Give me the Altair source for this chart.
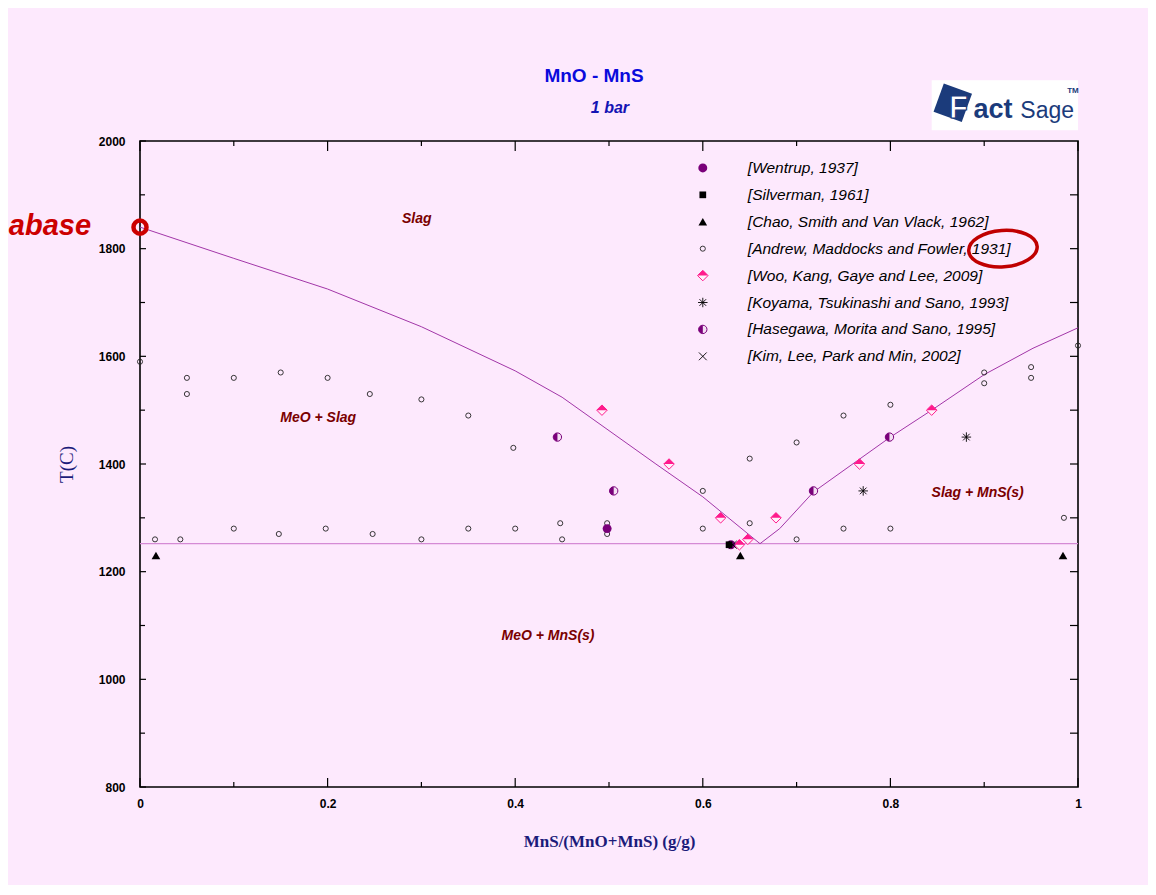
import altair as alt
import pandas as pd

# ---------------- data ----------------
wentrup_x = [0.498, 0.630]
wentrup_t = [1280, 1250]
silverman_x = [0.628]
silverman_t = [1250]
chao_x = [0.017, 0.640, 0.984]
chao_t = [1230, 1230, 1230]
andrew_x = [0.0, 0.05, 0.05, 0.10, 0.15, 0.20, 0.245, 0.30, 0.35, 0.398, 0.60, 0.65, 0.70, 0.75, 0.80, 0.90, 0.90, 0.95, 0.95, 1.0,
            0.016, 0.043, 0.10, 0.148, 0.198, 0.248, 0.30, 0.35, 0.40, 0.448, 0.45, 0.498, 0.498, 0.60, 0.65, 0.70, 0.75, 0.80, 0.985]
andrew_t = [1590, 1560, 1530, 1560, 1570, 1560, 1530, 1520, 1490, 1430, 1350, 1410, 1440, 1490, 1510, 1570, 1550, 1580, 1560, 1620,
            1260, 1260, 1280, 1270, 1280, 1270, 1260, 1280, 1280, 1290, 1260, 1290, 1270, 1280, 1290, 1260, 1280, 1280, 1300]
woo_x = [0.4925, 0.564, 0.619, 0.639, 0.648, 0.678, 0.767, 0.844]
woo_t = [1500, 1400, 1300, 1250, 1260, 1300, 1400, 1500]
koyama_x = [0.771, 0.881]
koyama_t = [1350, 1450]
hasegawa_x = [0.445, 0.505, 0.718, 0.799]
hasegawa_t = [1450, 1350, 1350, 1450]
kim_x = [0.632]
kim_t = [1250]

liq_left_x = [0.0, 0.1, 0.2, 0.3, 0.4, 0.45, 0.5, 0.55, 0.6, 0.661]
liq_left_t = [1840, 1782, 1725, 1655, 1573, 1524, 1462, 1400, 1339, 1252]
liq_right_x = [0.661, 0.682, 0.718, 0.8, 0.844, 0.9, 0.952, 1.0]
liq_right_t = [1252, 1280, 1348, 1450, 1500, 1566, 1615, 1653]
eut_x = [0.0, 1.0]
eut_t = [1252, 1252]

legend_labels = ["[Wentrup, 1937]", "[Silverman, 1961]", "[Chao, Smith and Van Vlack, 1962]",
                 "[Andrew, Maddocks and Fowler, 1931]", "[Woo, Kang, Gaye and Lee, 2009]",
                 "[Koyama, Tsukinashi and Sano, 1993]", "[Hasegawa, Morita and Sano, 1995]",
                 "[Kim, Lee, Park and Min, 2002]"]
legend_t = [1950, 1900, 1850, 1800, 1750, 1700, 1650, 1600]
legend_sym_x = 0.6
legend_txt_x = 0.648

phase_text = ["Slag", "MeO + Slag", "MeO + MnS(s)", "Slag + MnS(s)"]
phase_x = [0.295, 0.19, 0.435, 0.893]
phase_t = [1855, 1485, 1080, 1346]

y_major = [800, 1000, 1200, 1400, 1600, 1800, 2000]
y_minor = [900, 1100, 1300, 1500, 1700, 1900]
y_right = [900, 1000, 1100, 1200, 1300, 1400, 1500, 1600, 1700, 1800, 1900]
x_major = [0.0, 0.2, 0.4, 0.6, 0.8, 1.0]
x_minor = [0.1, 0.3, 0.5, 0.7, 0.9]

W, H = 938, 646
BG = "#FDE9FD"
xs = alt.Scale(domain=[0, 1], nice=False, zero=False)
ys = alt.Scale(domain=[800, 2000], nice=False, zero=False)

yaxis = alt.Axis(values=y_major, format="d", title="T(C)", ticks=False, domain=False, grid=False,
                 labelFont="Liberation Sans", labelFontWeight="bold", labelFontSize=12,
                 labelColor="black", labelPadding=15, labelFlush=False, labelOverlap=False,
                 titleFont="Liberation Serif", titleFontSize=19, titleFontWeight="normal",
                 titleColor="#1B1B7A", titlePadding=22)
xaxis = alt.Axis(values=x_major, format=".1~f", title="MnS/(MnO+MnS) (g/g)", ticks=False, domain=False,
                 grid=False, labelFont="Liberation Sans", labelFontWeight="bold", labelFontSize=12,
                 labelColor="black", labelPadding=11, labelFlush=False, labelOverlap=False,
                 titleFont="Liberation Serif", titleFontSize=17, titleFontWeight="bold",
                 titleColor="#1B1B7A", titlePadding=24)

X = alt.X("x:Q", scale=xs, axis=xaxis)
Y = alt.Y("t:Q", scale=ys, axis=yaxis)


def enc(ch):
    return ch.encode(x=X, y=Y)


def series(xv, tv, li):
    d = pd.DataFrame({"x": xv, "t": tv})
    leg = pd.DataFrame({"x": [legend_sym_x], "t": [legend_t[li]]})
    return pd.concat([d, leg], ignore_index=True)


def pt(df, **kw):
    base = dict(opacity=1)
    base.update(kw)
    return enc(alt.Chart(df).mark_point(**base))


def txt(xv, tv, labels, **kw):
    df = pd.DataFrame({"x": xv, "t": tv, "label": labels})
    return enc(alt.Chart(df).mark_text(**kw)).encode(text="label:N")


layers = []

# --- ticks ---
ymaj = pd.DataFrame({"t": y_major})
ymin = pd.DataFrame({"t": y_minor})
yr = pd.DataFrame({"t": y_right})
xmaj = pd.DataFrame({"x": x_major})
xmin = pd.DataFrame({"x": x_minor})

layers.append(alt.Chart(ymaj).mark_rule(color="black", strokeWidth=1.2).encode(y=Y, x=alt.value(0), x2=alt.value(6)))
layers.append(alt.Chart(ymin).mark_rule(color="black", strokeWidth=1.2).encode(y=Y, x=alt.value(0), x2=alt.value(5)))
layers.append(alt.Chart(yr).mark_rule(color="black", strokeWidth=1.2).encode(y=Y, x=alt.value(W - 8), x2=alt.value(W)))
layers.append(alt.Chart(xmaj).mark_rule(color="black", strokeWidth=1.2).encode(x=X, y=alt.value(H - 9), y2=alt.value(H)))
layers.append(alt.Chart(xmin).mark_rule(color="black", strokeWidth=1.2).encode(x=X, y=alt.value(H - 5), y2=alt.value(H)))
layers.append(alt.Chart(xmaj).mark_rule(color="black", strokeWidth=1.2).encode(x=X, y=alt.value(0), y2=alt.value(10)))
layers.append(alt.Chart(xmin).mark_rule(color="black", strokeWidth=1.2).encode(x=X, y=alt.value(0), y2=alt.value(5)))

# --- phase boundary lines ---
layers.append(enc(alt.Chart(pd.DataFrame({"x": eut_x, "t": eut_t})).mark_line(color="#D58AD5", strokeWidth=1.2)))
layers.append(enc(alt.Chart(pd.DataFrame({"x": liq_left_x, "t": liq_left_t})).mark_line(color="#A236A8", strokeWidth=1)))
layers.append(enc(alt.Chart(pd.DataFrame({"x": liq_right_x, "t": liq_right_t})).mark_line(color="#A236A8", strokeWidth=1)))

# --- data series ---
ASTER = "M-1,0L1,0M0,-1L0,1M-0.7,-0.7L0.7,0.7M-0.7,0.7L0.7,-0.7"
XMARK = "M-1,-1L1,1M-1,1L1,-1"
TOPHALF = "M-1,0L0,-1L1,0Z"
LEFTHALF = "M0,-1A1,1 0 0,0 0,1Z"

layers.append(pt(series(andrew_x, andrew_t, 3), shape="circle", size=26, filled=False, stroke="#222222", strokeWidth=0.9))

d_woo = series(woo_x, woo_t, 4)
layers.append(pt(d_woo, shape="diamond", size=110, filled=True, fill="#FFF0FA", stroke="#FF1A8C", strokeWidth=1))
layers.append(pt(d_woo, shape=TOPHALF, size=110, filled=True, fill="#FF1A8C", strokeWidth=0))

d_has = series(hasegawa_x, hasegawa_t, 6)
layers.append(pt(d_has, shape="circle", size=70, filled=True, fill="#F3E0F3", stroke="#7A007A", strokeWidth=1))
layers.append(pt(d_has, shape=LEFTHALF, size=70, filled=True, fill="#7A007A", strokeWidth=0))

layers.append(pt(series(wentrup_x, wentrup_t, 0), shape="circle", size=80, filled=True, fill="#7A007A", strokeWidth=0))
layers.append(pt(series(silverman_x, silverman_t, 1), shape="square", size=45, filled=True, fill="black", strokeWidth=0))
layers.append(pt(series(chao_x, chao_t, 2), shape="triangle-up", size=75, filled=True, fill="black", strokeWidth=0))
layers.append(pt(series(koyama_x, koyama_t, 5), shape=ASTER, size=90, filled=False, stroke="black", strokeWidth=0.9))
layers.append(pt(series(kim_x, kim_t, 7), shape=XMARK, size=60, filled=False, stroke="black", strokeWidth=0.9))

# --- legend text ---
layers.append(txt([legend_txt_x] * len(legend_labels), legend_t, legend_labels, align="left", baseline="middle",
                  font="Liberation Sans", fontSize=15.5, fontStyle="italic", color="black"))

# --- phase labels ---
layers.append(txt(phase_x, phase_t, phase_text, align="center", baseline="middle", font="Liberation Sans",
                  fontSize=14, fontStyle="italic", fontWeight="bold", color="#7A0000"))

# --- title texts ---
layers.append(txt([0.484], [2121], ["MnO - MnS"], align="center", baseline="middle", font="Liberation Sans",
                  fontSize=19, fontWeight="bold", color="#0A0ADC"))
layers.append(txt([0.501], [2061], ["1 bar"], align="center", baseline="middle", font="Liberation Sans",
                  fontSize=16, fontWeight="bold", fontStyle="italic", color="#1414B4"))

# --- FactSage logo ---
logo_box = pd.DataFrame({"x": [0.844], "x2": [1.0], "t": [2020], "t2": [2113]})
layers.append(alt.Chart(logo_box).mark_rect(fill="white").encode(x=X, x2="x2:Q", y=Y, y2="t2:Q"))
layers.append(pt(pd.DataFrame({"x": [0.8665], "t": [2071]}), shape="square", size=900, angle=20,
                 filled=True, fill="#1B3B7B", strokeWidth=0))
layers.append(txt([0.8625], [2043], ["F"], align="left", baseline="alphabetic", font="Liberation Sans",
                  fontSize=31, fontWeight="bold", fill="white", stroke="#1B3B7B", strokeWidth=1.2))
layers.append(txt([0.8885], [2043], ["act"], align="left", baseline="alphabetic", font="Liberation Sans",
                  fontSize=27, fontWeight="bold", color="#1B3B7B"))
layers.append(txt([0.9385], [2043], ["Sage"], align="left", baseline="alphabetic", font="Liberation Sans",
                  fontSize=23, color="#1B3B7B"))
layers.append(txt([0.9885], [2090], ["TM"], align="left", baseline="alphabetic", font="Liberation Sans",
                  fontSize=8, fontWeight="bold", color="#1B3B7B"))

# --- red annotations ---
layers.append(pt(pd.DataFrame({"x": [0.0], "t": [1840]}), shape="circle", size=170, filled=False,
                 stroke="#CC0000", strokeWidth=4.5))
ELLIPSE = "M-1,0A1,0.53 0 1,0 1,0A1,0.53 0 1,0 -1,0Z"
layers.append(pt(pd.DataFrame({"x": [0.92], "t": [1800]}), shape=ELLIPSE, size=4700, angle=356,
                 filled=False, stroke="#C00000", strokeWidth=3.5))
layers.append(txt([-0.0522], [1826], ["abase"], align="right", baseline="alphabetic", font="Liberation Sans",
                  fontSize=29, fontWeight="bold", fontStyle="italic", color="#CC0000"))

chart = alt.layer(*layers).properties(
    width=W, height=H,
    padding={"left": 132, "top": 133, "right": 70, "bottom": 98},
    autosize=alt.AutoSizeParams(type="none"),
    background=BG,
).configure_view(stroke="black", strokeWidth=1.6)

chart.save("out.html", embed_options={"renderer": "svg", "actions": False})
